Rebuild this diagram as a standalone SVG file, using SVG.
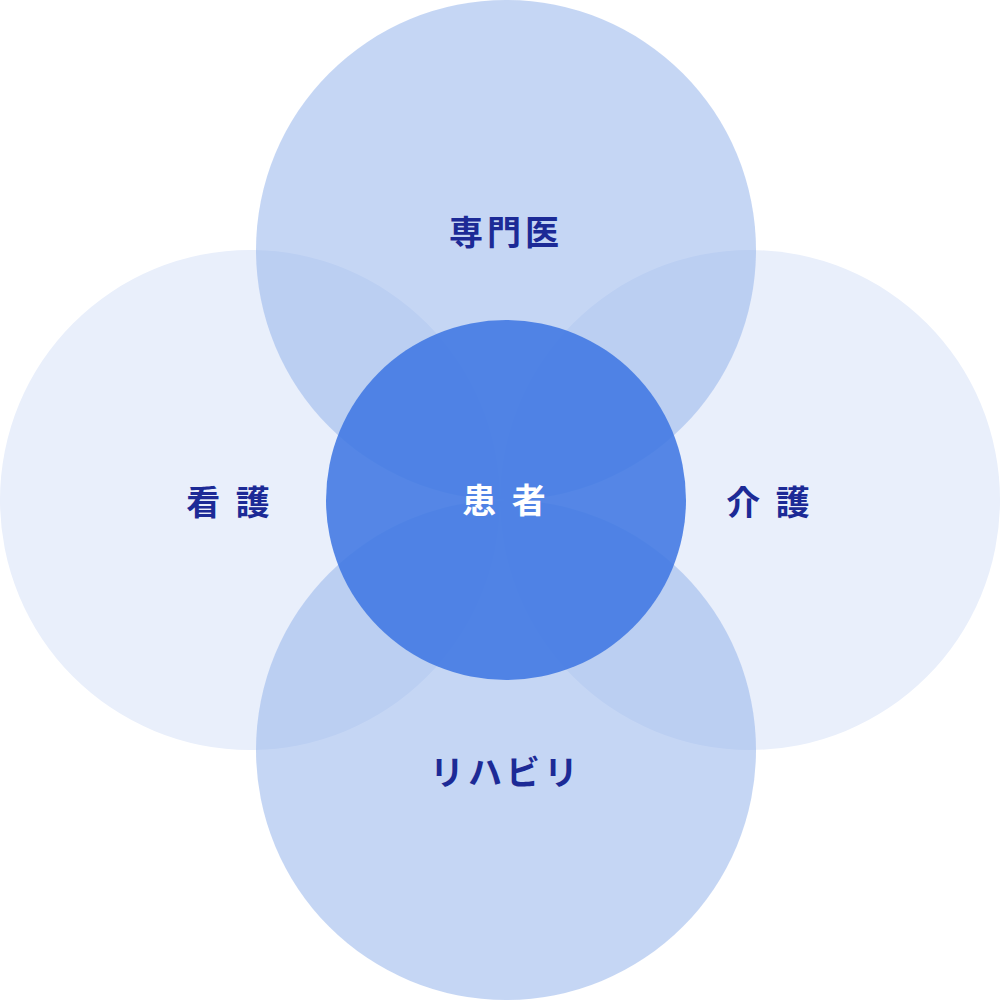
<svg xmlns="http://www.w3.org/2000/svg" width="1000" height="1000" viewBox="0 0 1000 1000">
<style>
.side{fill:#E9EFFB}
.tb{fill:#96B4EB;fill-opacity:0.55}
.lab{font-family:"Noto Sans CJK JP",sans-serif;font-weight:700;font-size:34px;fill:#1C2A96;text-anchor:middle;letter-spacing:4px}
</style>
<rect width="1000" height="1000" fill="#fff"/>
<g id="kango"><circle class="side" cx="250" cy="500" r="250"/><text class="lab" x="230" y="515">看 護</text></g>
<g id="kaigo"><circle class="side" cx="750" cy="500" r="250"/><text class="lab" x="770" y="515">介 護</text></g>
<g id="senmoni"><circle class="tb" cx="506" cy="250" r="250"/><text class="lab" x="506" y="245">専門医</text></g>
<g id="rehab"><circle class="tb" cx="506" cy="750" r="250"/><text class="lab" x="506" y="785">リハビリ</text></g>
<g id="kanja"><circle cx="506" cy="500" r="180" fill="#4078E2" fill-opacity="0.88"/><text class="lab" x="506" y="513" style="fill:#fff">患 者</text></g>
<g id="connectors"/>
</svg>
